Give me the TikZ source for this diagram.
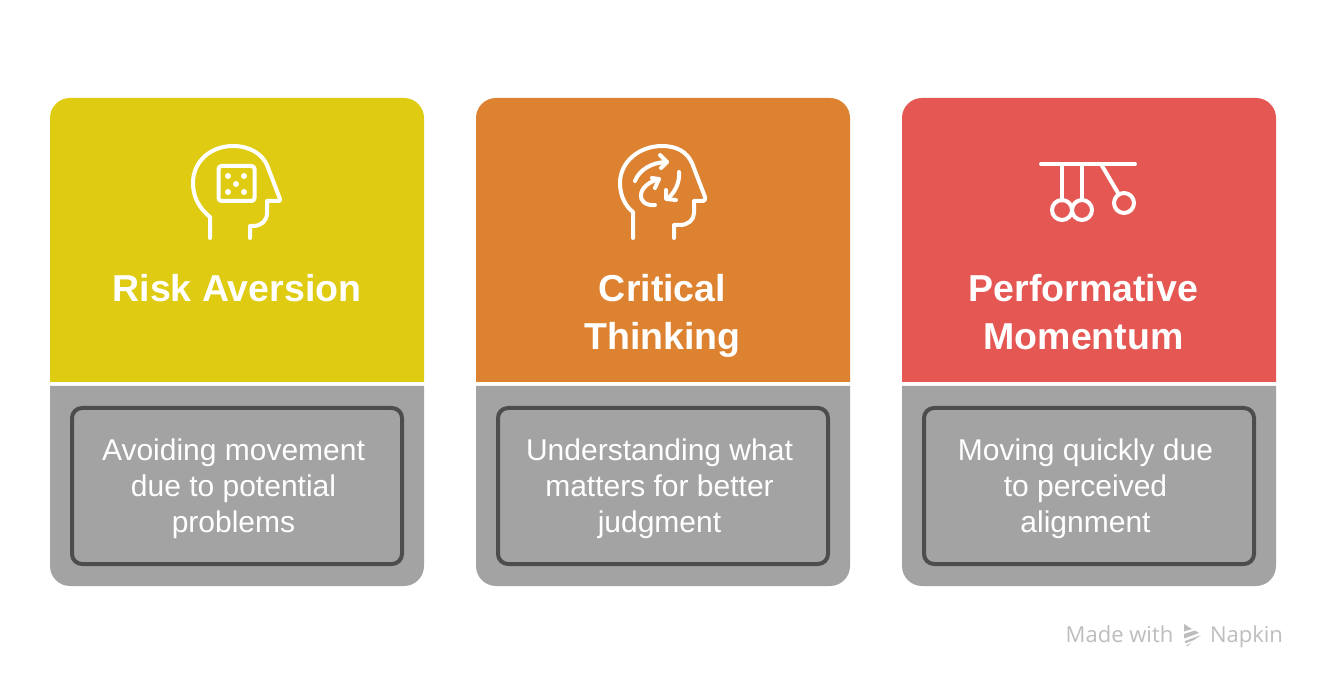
\documentclass[tikz,border=0pt]{standalone}
\usepackage{fontspec}
\setmainfont{Liberation Sans}
\newfontfamily\brandfont{Open Sans}
\definecolor{riskcol}{HTML}{DECB12}
\definecolor{criticalcol}{HTML}{DC8230}
\definecolor{momentumcol}{HTML}{E55753}
\definecolor{panelcol}{HTML}{A3A3A3}
\definecolor{framecol}{HTML}{4D4D4D}
\definecolor{brandcol}{HTML}{BDBDBD}
\tikzstyle{cardtitle} = [text=white, align=center, font=\fontsize{37.5}{48}\selectfont\bfseries]
\tikzstyle{textframe} = [rectangle, rounded corners=10pt, minimum width=330pt, minimum height=156pt, draw=framecol, line width=4pt]
\tikzstyle{bodytext} = [text=white, align=center, font=\fontsize{30}{36}\selectfont]
\tikzstyle{icon} = [draw=white, line width=4pt, line cap=round, line join=round]
\tikzstyle{brand} = [text=brandcol, anchor=base, font=\brandfont\fontsize{22}{26}\selectfont]
\begin{document}
\begin{tikzpicture}[x=1pt, y=-1pt, node distance=426pt]
	\useasboundingbox (0,0) rectangle (1326,684);
	% coloured headers and grey panels
	\fill [riskcol, rounded corners=20pt] (50,382) -- (50,98) -- (424,98) -- (424,382);
	\fill [criticalcol, rounded corners=20pt] (476,382) -- (476,98) -- (850,98) -- (850,382);
	\fill [momentumcol, rounded corners=20pt] (902,382) -- (902,98) -- (1276,98) -- (1276,382);
	\fill [panelcol, rounded corners=20pt] (50,386) -- (50,586) -- (424,586) -- (424,386);
	\fill [panelcol, rounded corners=20pt] (476,386) -- (476,586) -- (850,586) -- (850,386);
	\fill [panelcol, rounded corners=20pt] (902,386) -- (902,586) -- (1276,586) -- (1276,386);
	% titles
	\node (risktitle) [cardtitle] at (237,288) {Risk Aversion};
	\node (criticaltitle) [cardtitle] at (662.5,316) {Critical\\Thinking};
	\node (momentumtitle) [cardtitle] at (1083.5,312) {Performative\\Momentum};
	% framed descriptions
	\node (riskframe) [textframe] at (237,486) {};
	\node (criticalframe) [textframe, right of=riskframe] {};
	\node (momentumframe) [textframe, right of=criticalframe] {};
	\node (risktext) [bodytext, xshift=-3.5pt, yshift=-3pt] at (riskframe) {Avoiding movement\\due to potential\\problems};
	\node (criticaltext) [bodytext, xshift=-3.5pt, yshift=-3pt] at (criticalframe) {Understanding what\\matters for better\\judgment};
	\node (momentumtext) [bodytext, xshift=-3.5pt, yshift=-3pt] at (momentumframe) {Moving quickly due\\to perceived\\alignment};
	% head with dice
	\draw [icon] (210,238) -- (210,217) .. controls (199,208) and (193,197) .. (193,183) .. controls (193,161) and (211,146) .. (233,146) .. controls (250,146) and (262,154) .. (267,165) -- (280,199) .. controls (280.5,200.5) and (280,201) .. (278,201) -- (267,201) -- (267,213) .. controls (267,221) and (261,226) .. (253,226) -- (250,226) -- (250,238);
	\draw [icon, rounded corners=3pt] (218.5,166) rectangle (254.5,201);
	\foreach \dotx/\doty in {228/176, 244/176, 236/184, 228/192, 244/192}
		\fill [white] (\dotx,\doty) circle (3pt);
	% head with arrows
	\draw [icon] (633,238) -- (633,212) .. controls (625,206) and (620,195) .. (620,183) .. controls (620,162) and (639,146) .. (662,146) .. controls (677,146) and (687,152) .. (692,163) -- (705,197) .. controls (705.5,199) and (705,201) .. (703,201) -- (694,201) -- (694,213) .. controls (694,220) and (688,225) .. (680,225) -- (674,225) -- (674,238);
	\draw [icon] (635,181) .. controls (639,170) and (652,162) .. (667,162);
	\draw [icon] (660,155) -- (667,162) -- (661,168);
	\draw [icon] (679,172) .. controls (680,182) and (675,193) .. (667,199);
	\draw [icon] (666,190) -- (666,199) -- (676,200);
	\draw [icon] (655,205) .. controls (645,206) and (640,200) .. (641,195) .. controls (641,188) and (650,181) .. (659,179);
	\draw [icon] (652,178) -- (659,179) -- (655,188);
	% pendulum
	\draw [icon] (1041,164) -- (1135,164);
	\draw [icon] (1062,164) -- (1062,200.5);
	\draw [icon] (1082,164) -- (1082,200);
	\draw [icon] (1101,164) -- (1118,193);
	\draw [icon] (1062,210) circle (10pt);
	\draw [icon] (1082,210) circle (10pt);
	\draw [icon] (1124,203) circle (10pt);
	% watermark
	\node (madewith) [brand] at (1119.5,642) {Made with};
	\node (napkin) [brand] at (1246.5,642) {Napkin};
	\fill [brandcol] (1184,624) -- (1192,629) -- (1184,631.5) -- cycle;
	\fill [brandcol] (1184,634) -- (1195,630.5) -- (1199,633) -- (1184,638.5) -- cycle;
	\fill [brandcol] (1185,641) -- (1201,635) -- (1194,640) -- (1185,643.5) -- cycle;
	\fill [brandcol] (1186,645.5) -- (1192,642.5) -- (1187,646.5) -- cycle;
\end{tikzpicture}
\end{document}
